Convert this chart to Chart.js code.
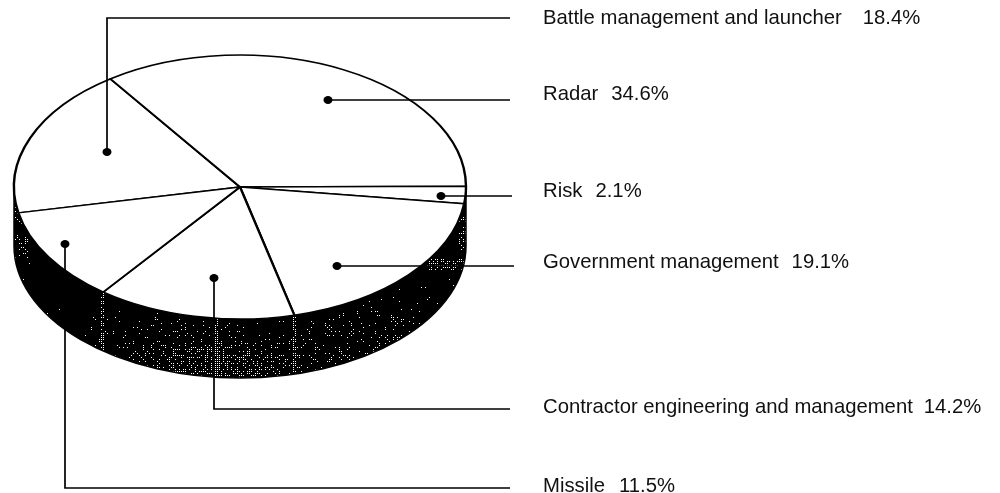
<!DOCTYPE html>
<html>
<head>
<meta charset="utf-8">
<style>html,body{margin:0;padding:0;background:#fff}#w{width:1000px;height:493px;position:relative}</style>
<script src="https://cdn.jsdelivr.net/npm/chart.js@4/dist/chart.umd.min.js"></script>
</head>
<body>
<div id="w"><canvas id="c" width="1000" height="493"></canvas></div>
<script>
const categories = ["Battle management and launcher","Radar","Risk","Government management","Contractor engineering and management","Missile"];
const shares = [18.4,34.6,2.1,19.1,14.2,11.5];
const startAngle = -101.3;

// Layout of the drawing (not data)
const CX=240, CY=187, RX=226, RY=132, DEPTH=59;
const labelX=543;
const labelY=[18,94,191,262,407,486];
const valueGap=[21,13,13,13,11,14];
const leaders=[
  [[107,152],[107,18],[510,18]],
  [[328,100],[510,100]],
  [[441,196],[512,196]],
  [[337,266],[514,266]],
  [[214,278],[214,409],[510,409]],
  [[65,244],[65,488],[510,488]]
];

// Ink texture of the side wall: dark with sparse light specks on a 2px grid.
function wallDensity(x,y){
  const dx=(x-CX)/RX, inner=CY+RY*Math.sqrt(Math.max(0,1-dx*dx));
  const f=Math.min(1,Math.max(0,(y-inner)/DEPTH));
  let d=0.55*Math.exp(-Math.pow((x-215)/80,2))*f;
  d+=0.22*Math.exp(-Math.pow((x-365)/45,2))*f;
  if((x>=100&&x<=104)||(x>=214&&x<=218)||(x>=292&&x<=295)) d+=0.55;
  if(x<28&&y>205&&y<265) d+=0.25;
  if(x>425&&y>=258&&y<=270) d+=0.5;
  if(x>458&&y>215&&y<250) d+=0.25;
  return d;
}
function speck(x,y){const s=Math.sin(x*12.9898+y*78.233)*43758.5453;return s-Math.floor(s);}
function wallPattern(ctx){
  const c=document.createElement('canvas');c.width=1000;c.height=493;
  const g=c.getContext('2d'),im=g.createImageData(1000,493);
  for(let y=0;y<493;y++)for(let x=0;x<1000;x++){
    const i=(y*1000+x)*4,on=(x%2&&y%2&&speck(x,y)<wallDensity(x,y))?255:0;
    im.data[i]=im.data[i+1]=im.data[i+2]=on;im.data[i+3]=255;
  }
  g.putImageData(im,0,0);
  return ctx.createPattern(c,'no-repeat');
}

const tiltPlugin={
  id:'tilt',
  beforeDatasetsDraw(chart){
    const ctx=chart.ctx;
    ctx.save();
    ctx.beginPath();
    ctx.ellipse(CX,CY,RX,RY,0,0,Math.PI,false);
    ctx.ellipse(CX,CY+DEPTH,RX,RY,0,Math.PI,0,true);
    ctx.closePath();
    ctx.fillStyle=wallPattern(ctx);
    ctx.fill();
    ctx.strokeStyle='#000';ctx.lineWidth=1.5;ctx.stroke();
    ctx.restore();
    const a=chart.getDatasetMeta(0).data[0];
    ctx.save();
    ctx.translate(CX,CY);
    ctx.scale(RX/a.outerRadius,RY/a.outerRadius);
    ctx.translate(-a.x,-a.y);
  },
  afterDatasetsDraw(chart){
    const ctx=chart.ctx;
    ctx.restore();
    ctx.save();
    ctx.strokeStyle='#000';ctx.fillStyle='#000';ctx.lineWidth=1.7;
    leaders.forEach(p=>{
      ctx.beginPath();
      p.forEach((q,i)=>i?ctx.lineTo(q[0],q[1]):ctx.moveTo(q[0],q[1]));
      ctx.stroke();
      ctx.beginPath();
      ctx.ellipse(p[0][0],p[0][1],4.5,4,0,0,Math.PI*2);
      ctx.fill();
    });
    ctx.font='20.3px "Liberation Sans"';
    ctx.textBaseline='middle';ctx.textAlign='left';
    ctx.fillStyle='#111';
    categories.forEach((n,i)=>{
      ctx.fillText(n,labelX,labelY[i]);
      ctx.fillText(shares[i].toFixed(1)+'%',labelX+ctx.measureText(n).width+valueGap[i],labelY[i]);
    });
    ctx.restore();
  }
};

new Chart(document.getElementById('c'),{
  type:'pie',
  data:{labels:categories,datasets:[{data:shares,backgroundColor:'#fff',borderColor:'#000',borderWidth:2.4}]},
  options:{
    responsive:false,animation:false,rotation:startAngle,
    layout:{padding:{left:14,right:534,top:0,bottom:0}},
    plugins:{legend:{display:false},tooltip:{enabled:false}},
    events:[]
  },
  plugins:[tiltPlugin]
});
</script>
</body>
</html>
